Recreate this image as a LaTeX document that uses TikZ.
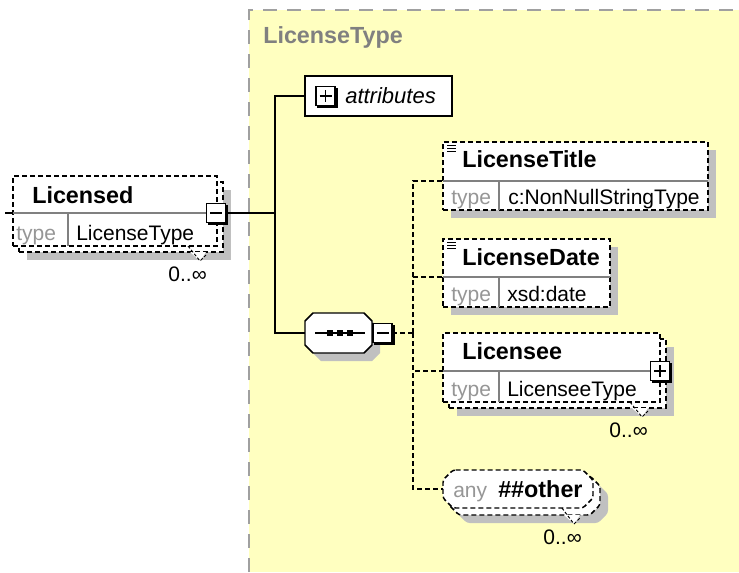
\documentclass[tikz,border=0pt]{standalone}
\usepackage{fontspec}
\setmainfont{Liberation Sans}
\definecolor{panelY}{RGB}{255,255,192}
\definecolor{shadowG}{RGB}{192,192,192}
\definecolor{panelB}{RGB}{160,160,160}
\definecolor{typeG}{RGB}{150,150,150}
\definecolor{divG}{RGB}{128,128,128}
\definecolor{titleG}{RGB}{128,128,128}
\tikzset{
  optline/.style={draw=black, line width=1.1pt, dash pattern=on 3.75pt off 2.25pt},
  conn/.style={draw=black, line width=1.1pt},
  divline/.style={draw=divG, line width=0.8pt},
  namefont/.style={font=\fontsize{17.5}{20}\selectfont\bfseries},
  valfont/.style={font=\fontsize{15.75}{18}\selectfont},
  lbl/.style={inner sep=0pt, anchor=base west},
  btnbox/.style={draw=black, fill=white, line width=0.8pt, minimum size=14.25pt, inner sep=0pt, outer sep=0pt},
  sz/.style 2 args={minimum width=#1*0.75pt, minimum height=#2*0.75pt, inner sep=0pt, outer sep=0pt},
  notchline/.style={draw=black, line width=0.75pt, dash pattern=on 2.25pt off 1.5pt},
}
\newcommand\mybtn[3]{%
  \fill[black] (#2-8.5,#3-8.5) rectangle (#2+12,#3+12);
  \node[btnbox] (#1) at (#2,#3) {};
  \draw[line width=1.1pt] (#2-6,#3) -- (#2+6,#3);
}
\newcommand\myplus[3]{%
  \mybtn{#1}{#2}{#3}
  \draw[line width=1.1pt] (#2,#3-6) -- (#2,#3+6);
}
\newcommand\octshape[6]{%
  \path[#1] (#2+#6,#3) -- (#4-#6,#3) -- (#4,#3+#6) -- (#4,#5-#6) -- (#4-#6,#5) -- (#2+#6,#5) -- (#2,#5-#6) -- (#2,#3+#6) -- cycle;
}
\newcommand\mynotch[3]{% xa, front bottom, back bottom
  \fill[white] (#1+2,#3) -- (#1+18,#3) -- (#1+12,#3+9) -- cycle;
  \draw[notchline] (#1,#2) -- (#1+12,#3+9) -- (#1+18,#3+3);
}
\newcommand\simpleicon[2]{%
  \draw[line width=0.75pt] (#1,#2) -- (#1+9,#2);
  \draw[line width=0.75pt] (#1,#2+3) -- (#1+9,#2+3);
  \draw[line width=0.75pt] (#1,#2+6) -- (#1+9,#2+6);
}
\begin{document}
\begin{tikzpicture}[x=0.75pt,y=-0.75pt]
\useasboundingbox (0,0) rectangle (739,572);
% complex type panel
\fill[panelY] (249,10) rectangle (739,572);
\draw[panelB, line width=1.5pt, dash pattern=on 10.5pt off 7.5pt] (249,572) -- (249,10) -- (739,10);
\node[lbl, namefont, text=titleG] (ptitle) at (263,43) {LicenseType};

% ---------- Licensed ----------
\fill[shadowG] (27,190) rectangle (231,260);
\node[optline, fill=white, sz={204}{70}, anchor=north west] (licBack) at (19,182) {};
\node[optline, fill=white, sz={204}{70}, anchor=north west] (lic) at (13,176) {};
\mynotch{188}{246}{252}
\draw[divline] (13,213) -- (217,213);
\draw[divline] (68,213) -- (68,246);
\node[lbl, namefont] (licName) at (32,203) {Licensed};
\node[lbl, valfont, text=typeG] (licTypeK) at (16,240) {type};
\node[lbl, valfont] (licTypeV) at (76,240) {LicenseType};
\mybtn{licBtn}{216}{213}
\node[lbl, valfont, anchor=base east] (licMult) at (207,281) {0..∞};
\coordinate (licIn) at (5,213);
\coordinate (licInEnd) at (13,213);
\draw[line width=0.8pt] (licIn) -- (licInEnd);

% ---------- attributes ----------
\node[draw=black, line width=1.1pt, fill=white, sz={147}{40}, anchor=north west] (attr) at (305,76) {};
\myplus{attrBtn}{325.5}{96}
\node[lbl, font=\fontsize{16.5}{19}\selectfont\itshape] (attrTxt) at (345,103) {attributes};

% ---------- sequence ----------
\octshape{fill=shadowG}{313}{321}{380}{361}{8}
\octshape{draw=black, fill=white, line width=1.1pt}{305}{313}{372}{353}{8}
\node[sz={67}{40}] (seq) at (338.5,333) {};
\draw[line width=1.1pt] (315,333) -- (365,333);
\fill (327,330) rectangle (333,336);
\fill (337,330) rectangle (343,336);
\fill (347,330) rectangle (353,336);
\mybtn{seqBtn}{382.5}{333}

% ---------- LicenseTitle ----------
\fill[shadowG] (451,150) rectangle (716,218);
\node[optline, fill=white, sz={265}{68}, anchor=north west] (lt) at (443,142) {};
\draw[divline] (443,181) -- (708,181);
\draw[divline] (499,181) -- (499,210);
\simpleicon{447}{145}
\node[lbl, namefont] (ltName) at (462,167) {LicenseTitle};
\node[lbl, valfont, text=typeG] (ltTypeK) at (451,204) {type};
\node[lbl, valfont] (ltTypeV) at (508,204) {c:NonNullStringType};
\coordinate (ltPort) at (443,181);

% ---------- LicenseDate ----------
\fill[shadowG] (451,247) rectangle (618,315);
\node[optline, fill=white, sz={167}{68}, anchor=north west] (ld) at (443,239) {};
\draw[divline] (443,277) -- (610,277);
\draw[divline] (499,277) -- (499,307);
\simpleicon{447}{242}
\node[lbl, namefont] (ldName) at (462,265) {LicenseDate};
\node[lbl, valfont, text=typeG] (ldTypeK) at (451,301) {type};
\node[lbl, valfont] (ldTypeV) at (507,301) {xsd:date};
\coordinate (ldPort) at (443,277);

% ---------- Licensee ----------
\fill[shadowG] (457,347) rectangle (674,416);
\node[optline, fill=white, sz={217}{69}, anchor=north west] (leBack) at (449,339) {};
\node[optline, fill=white, sz={217}{69}, anchor=north west] (le) at (443,333) {};
\mynotch{630}{402}{408}
\draw[divline] (443,371) -- (660,371);
\draw[divline] (499,371) -- (499,402);
\node[lbl, namefont] (leName) at (462,359) {Licensee};
\node[lbl, valfont, text=typeG] (leTypeK) at (451,396) {type};
\node[lbl, valfont] (leTypeV) at (507,396) {LicenseeType};
\myplus{leBtn}{660}{371}
\node[lbl, valfont, anchor=base east] (leMult) at (648,437) {0..∞};
\coordinate (lePort) at (443,371);

% ---------- any ##other ----------
\octshape{fill=shadowG, rounded corners=2pt}{457}{484}{608}{523}{10}
\octshape{optline, fill=white, rounded corners=2pt}{449}{476}{600}{515}{10}
\octshape{optline, fill=white, rounded corners=2pt}{443}{470}{593}{508}{10}
\node[sz={150}{38}] (oth) at (518,489) {};
\mynotch{562}{508}{515}
\node[lbl, valfont, text=typeG] (othAny) at (453,497) {any};
\node[lbl, namefont] (othName) at (498,497) {\#\#other};
\node[lbl, valfont, anchor=base east] (othMult) at (582,544) {0..∞};

% ---------- connectors ----------
\coordinate (jn) at (275,213);
\draw[conn] (licBtn.east) -- (jn);
\draw[conn] (jn) |- (attr.west);
\draw[conn] (jn) |- (seq.west);
\coordinate (bus) at (413,333);
\draw[optline] (seqBtn.east) -- (bus);
\draw[optline] (bus) |- (ltPort);
\draw[optline] (bus) |- (ldPort);
\draw[optline] (bus) |- (lePort);
\draw[optline] (bus) |- (oth.west);
\end{tikzpicture}
\end{document}
